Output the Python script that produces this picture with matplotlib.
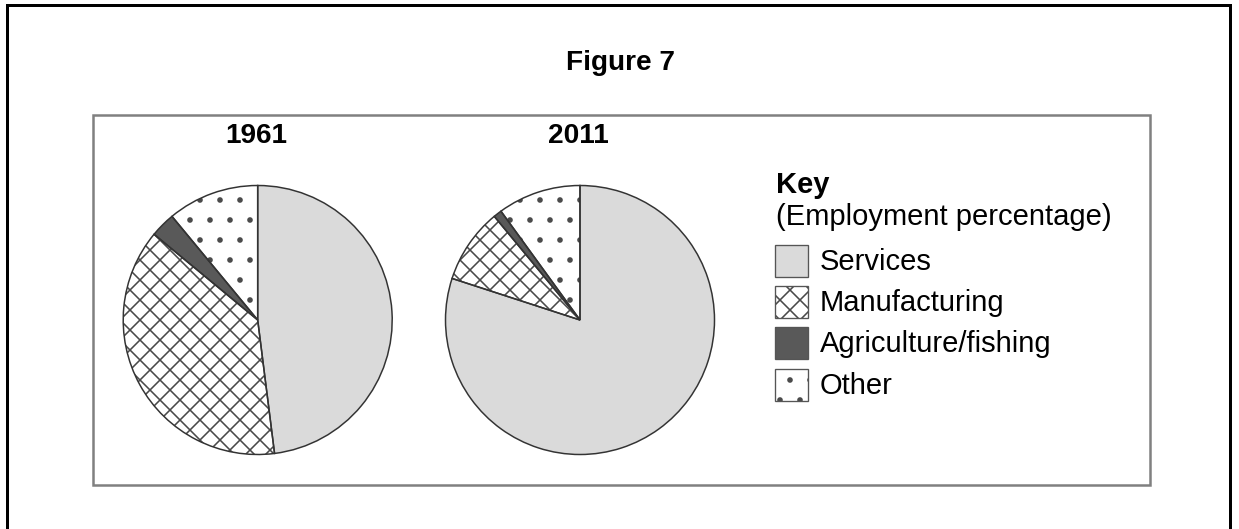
import matplotlib.pyplot as plt
from matplotlib.patches import Rectangle

years = ['1961', '2011']
sectors = ['Services', 'Manufacturing', 'Agriculture/fishing', 'Other']
share_1961 = [48, 38, 3, 11]
share_2011 = [80, 9, 1, 10]

# canvas in pixels; dpi chosen so the hatch spacing comes out right
W, H, DPI = 1239, 529, 120

fills = ['#dadada', 'white', '#595959', 'white']
hatches = [None, 'xx', None, '.']
HATCH_GREY = '#4a4a4a'
EDGE = '#333333'
FS = 16.8
KEY_FS = 17.5

plt.rcParams['font.family'] = ['Liberation Sans', 'DejaVu Sans']
plt.rcParams['hatch.linewidth'] = 0.95

fig = plt.figure(figsize=(W / DPI, H / DPI), dpi=DPI)

# background axes in pixel units (y down) for frames, text and the key
bg = fig.add_axes([0, 0, 1, 1])
bg.set_xlim(0, W)
bg.set_ylim(H, 0)
bg.axis('off')


def px_axes(x0, y0, w, h):
    return fig.add_axes([x0 / W, 1 - (y0 + h) / H, w / W, h / H])


# outer frame (open at the bottom) and inner box
bg.plot([6.5, 6.5, 1230, 1230], [H + 5, 5, 5, H + 5], color='black',
        lw=1.8, solid_joinstyle='miter')
bg.add_patch(Rectangle((93, 115), 1150 - 93, 485 - 115, fill=False,
                       edgecolor='#808080', lw=1.5))

bg.text(621, 70, 'Figure 7', ha='center', va='baseline', fontsize=FS,
        fontweight='bold')

# pies
centres = [(257.7, 320), (580, 320)]
R = 134.5
PAD = 1.05
for year, shares, (cx, cy) in zip(years, [share_1961, share_2011], centres):
    half = R * PAD
    ax = px_axes(cx - half, cy - half, 2 * half, 2 * half)
    wedges, _ = ax.pie(shares, startangle=90, counterclock=False,
                       colors=fills, radius=1,
                       wedgeprops=dict(linewidth=0, edgecolor=HATCH_GREY))
    for w, h in zip(wedges, hatches):
        w.set_hatch(h)
    ax.pie(shares, startangle=90, counterclock=False, radius=1,
           wedgeprops=dict(fill=False, linewidth=0.9, edgecolor=EDGE))
    ax.set_xlim(-PAD, PAD)
    ax.set_ylim(-PAD, PAD)
    ax.axis('off')
    bg.text(cx - 1.5, 143, year, ha='center', va='baseline', fontsize=FS,
            fontweight='bold')

# key
bg.text(776, 193, 'Key', ha='left', va='baseline', fontsize=KEY_FS,
        fontweight='bold')
bg.text(776, 225, '(Employment percentage)', ha='left', va='baseline',
        fontsize=KEY_FS)
row_top = 245
row_step = 41.2
for i, (name, fc, h) in enumerate(zip(sectors, fills, hatches)):
    top = row_top + i * row_step
    bg.add_patch(Rectangle((775, top), 33, 32, facecolor=fc, hatch=h,
                           edgecolor=HATCH_GREY, lw=0))
    bg.add_patch(Rectangle((775, top), 33, 32, fill=False,
                           edgecolor='#555555', lw=0.8))
    bg.text(820, top + 25, name, ha='left', va='baseline', fontsize=KEY_FS)

fig.savefig('out.png', dpi=DPI)
